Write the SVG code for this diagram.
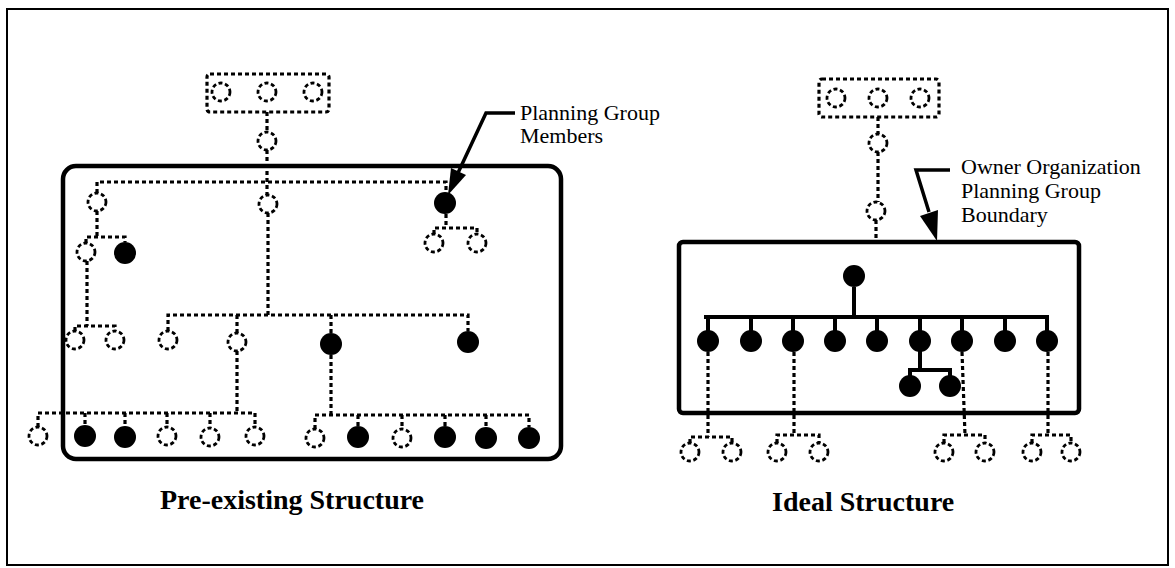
<svg xmlns="http://www.w3.org/2000/svg" xmlns:xlink="http://www.w3.org/1999/xlink" width="1175" height="568" viewBox="0 0 1175 568">
  <style>
    .frame { fill: #fff; stroke: #000; stroke-width: 2; }
    .bound { fill: none; stroke: #000; stroke-width: 4.5; }
    .dl { fill: none; stroke: #000; stroke-width: 3.2; stroke-dasharray: 4 3; }
    .dc { fill: none; stroke: #000; stroke-width: 2.8; stroke-dasharray: 4 2.6; }
    .sl { fill: none; stroke: #000; stroke-width: 4; }
    .lead { fill: none; stroke: #000; stroke-width: 3.5; }
    .head { fill: #000; }
    .m { fill: #000; }
    .lbl { font-family: "Liberation Serif", "Times New Roman", serif; font-size: 22px; fill: #000; }
    .ttl { font-family: "Liberation Serif", "Times New Roman", serif; font-size: 28px; font-weight: bold; fill: #000; }
  </style>
  <defs>
    <!-- outside party (dashed) and member (filled) symbols -->
    <circle id="ext" r="9" class="dc"/>
    <circle id="mem" r="11" class="m"/>
  </defs>

  <rect class="frame" x="7" y="9" width="1161" height="556"/>

  <!-- ===== Pre-existing structure ===== -->
  <rect id="pre-boundary" class="bound" x="63" y="166" width="498" height="293" rx="13"/>

  <g id="pre-connectors">
    <path class="dl" d="M267,112 V132 M267,150 V195 M268,213 V315"/>
    <path class="dl" d="M97,193 V182 H446 V192"/>
    <path class="dl" d="M97,211 V237 M86,243 V237 H125 V242 M87,261 V326 M75,331 V326 H115 V331"/>
    <path class="dl" d="M446,214 V228 M434,234 V228 H477 V234"/>
    <path class="dl" d="M168,331 V315 H468 V331 M237,315 V333 M331,315 V333"/>
    <path class="dl" d="M237,351 V413 M331,355 V415"/>
    <path class="dl" d="M38,427 V413 H255 V427 M85,413 V425 M125,413 V426 M167,413 V427 M210,413 V428"/>
    <path class="dl" d="M315,429 V415 H529 V427 M358,415 V426 M402,415 V429 M445,415 V426 M486,415 V427"/>
  </g>

  <g id="pre-top">
    <rect class="dl" x="207" y="74" width="122" height="38" rx="3"/>
    <use xlink:href="#ext" x="221" y="92"/>
    <use xlink:href="#ext" x="267" y="92"/>
    <use xlink:href="#ext" x="313" y="92"/>
  </g>
  <g id="pre-n1"><use xlink:href="#ext" x="267" y="141"/></g>
  <g id="pre-n2"><use xlink:href="#ext" x="268" y="204"/></g>
  <g id="pre-a"><use xlink:href="#ext" x="97" y="202"/></g>
  <g id="pre-a1"><use xlink:href="#mem" x="125" y="253"/></g>
  <g id="pre-a2"><use xlink:href="#ext" x="86" y="252"/></g>
  <g id="pre-a21"><use xlink:href="#ext" x="75" y="340"/></g>
  <g id="pre-a22"><use xlink:href="#ext" x="115" y="340"/></g>
  <g id="pre-member"><use xlink:href="#mem" x="445" y="203"/></g>
  <g id="pre-m1"><use xlink:href="#ext" x="434" y="243"/></g>
  <g id="pre-m2"><use xlink:href="#ext" x="477" y="243"/></g>
  <g id="pre-b1"><use xlink:href="#ext" x="168" y="340"/></g>
  <g id="pre-b2"><use xlink:href="#ext" x="237" y="342"/></g>
  <g id="pre-b3"><use xlink:href="#mem" x="331" y="344"/></g>
  <g id="pre-b4"><use xlink:href="#mem" x="468" y="342"/></g>
  <g id="pre-c1"><use xlink:href="#ext" x="38" y="436"/></g>
  <g id="pre-c2"><use xlink:href="#mem" x="85" y="436"/></g>
  <g id="pre-c3"><use xlink:href="#mem" x="125" y="437"/></g>
  <g id="pre-c4"><use xlink:href="#ext" x="167" y="436"/></g>
  <g id="pre-c5"><use xlink:href="#ext" x="210" y="437"/></g>
  <g id="pre-c6"><use xlink:href="#ext" x="255" y="436"/></g>
  <g id="pre-d1"><use xlink:href="#ext" x="315" y="438"/></g>
  <g id="pre-d2"><use xlink:href="#mem" x="358" y="437"/></g>
  <g id="pre-d3"><use xlink:href="#ext" x="402" y="438"/></g>
  <g id="pre-d4"><use xlink:href="#mem" x="445" y="437"/></g>
  <g id="pre-d5"><use xlink:href="#mem" x="486" y="438"/></g>
  <g id="pre-d6"><use xlink:href="#mem" x="529" y="438"/></g>

  <g id="label-members">
    <path class="lead" d="M515,113 H486 L457,175"/>
    <polygon class="head" points="448,195 466,175 451,168"/>
    <text class="lbl" x="520" y="120">Planning Group</text>
    <text class="lbl" x="520" y="143">Members</text>
  </g>

  <text class="ttl" x="292" y="509" text-anchor="middle">Pre-existing Structure</text>

  <!-- ===== Ideal structure ===== -->
  <rect id="ideal-boundary" class="bound" x="679" y="242" width="400" height="171" rx="4"/>

  <g id="ideal-connectors">
    <path class="dl" d="M878,117 V134 M878,152 V202 M876,220 V242"/>
    <path class="sl" d="M854,287 V317 M704,317 H1049"/>
    <path class="sl" d="M708,317 V332 M751,317 V332 M793,317 V332 M835,317 V332 M877,317 V332 M920,317 V332 M962,317 V332 M1005,317 V332 M1047,317 V332"/>
    <path class="sl" d="M920,350 V370 M908,370 H952 M910,370 V378 M950,370 V378"/>
    <path class="dl" d="M708,352 V437 M690,443 V437 H732 V443"/>
    <path class="dl" d="M794,352 V435 M777,443 V435 H819 V443"/>
    <path class="dl" d="M962,352 L965,435 M944,443 V435 H985 V443"/>
    <path class="dl" d="M1048,352 V435 M1032,443 V435 H1071 V443"/>
  </g>

  <g id="ideal-top">
    <rect class="dl" x="819" y="79" width="120" height="38" rx="3"/>
    <use xlink:href="#ext" x="836" y="98"/>
    <use xlink:href="#ext" x="878" y="98"/>
    <use xlink:href="#ext" x="920" y="98"/>
  </g>
  <g id="ideal-n1"><use xlink:href="#ext" x="878" y="143"/></g>
  <g id="ideal-n2"><use xlink:href="#ext" x="876" y="211"/></g>
  <g id="ideal-head"><use xlink:href="#mem" x="854" y="276"/></g>
  <g id="ideal-m1"><use xlink:href="#mem" x="708" y="341"/></g>
  <g id="ideal-m2"><use xlink:href="#mem" x="751" y="341"/></g>
  <g id="ideal-m3"><use xlink:href="#mem" x="793" y="341"/></g>
  <g id="ideal-m4"><use xlink:href="#mem" x="835" y="341"/></g>
  <g id="ideal-m5"><use xlink:href="#mem" x="877" y="341"/></g>
  <g id="ideal-m6"><use xlink:href="#mem" x="920" y="341"/></g>
  <g id="ideal-m7"><use xlink:href="#mem" x="962" y="341"/></g>
  <g id="ideal-m8"><use xlink:href="#mem" x="1005" y="341"/></g>
  <g id="ideal-m9"><use xlink:href="#mem" x="1047" y="341"/></g>
  <g id="ideal-s1"><use xlink:href="#mem" x="910" y="386"/></g>
  <g id="ideal-s2"><use xlink:href="#mem" x="950" y="386"/></g>
  <g id="ideal-e1"><use xlink:href="#ext" x="690" y="452"/></g>
  <g id="ideal-e2"><use xlink:href="#ext" x="732" y="452"/></g>
  <g id="ideal-e3"><use xlink:href="#ext" x="777" y="452"/></g>
  <g id="ideal-e4"><use xlink:href="#ext" x="819" y="452"/></g>
  <g id="ideal-e5"><use xlink:href="#ext" x="944" y="452"/></g>
  <g id="ideal-e6"><use xlink:href="#ext" x="985" y="452"/></g>
  <g id="ideal-e7"><use xlink:href="#ext" x="1032" y="452"/></g>
  <g id="ideal-e8"><use xlink:href="#ext" x="1071" y="452"/></g>

  <g id="label-boundary">
    <path class="lead" d="M950,170 H916 L929,212"/>
    <polygon class="head" points="937,241 938,210 920,216"/>
    <text class="lbl" x="961" y="174">Owner Organization</text>
    <text class="lbl" x="961" y="198">Planning Group</text>
    <text class="lbl" x="961" y="222">Boundary</text>
  </g>

  <text class="ttl" x="772" y="511">Ideal Structure</text>
</svg>
